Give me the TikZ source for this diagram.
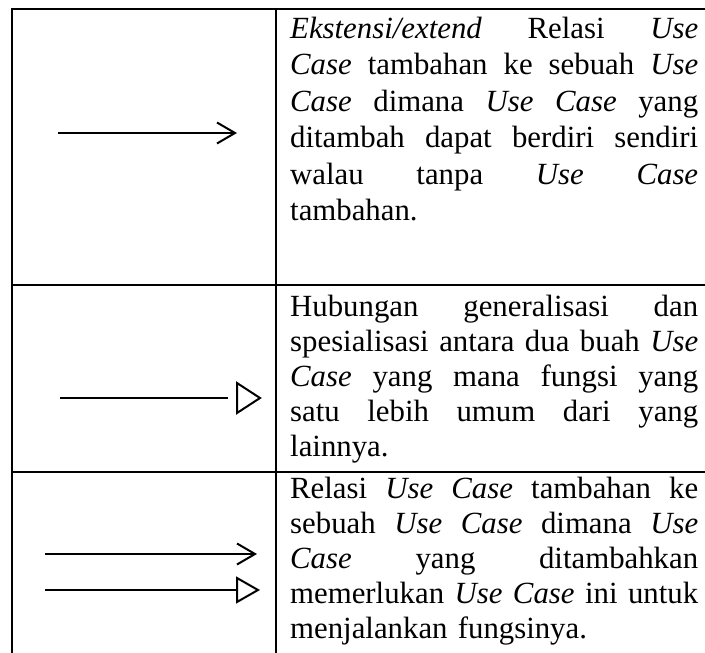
\documentclass[tikz,border=0pt]{standalone}
\usepackage{fontspec}
\setmainfont{Liberation Serif}
% one fully justified line of a cell
\newlength\celltextwidth
\setlength\celltextwidth{408pt}
\newcommand\jl[1]{\leavevmode\hbox to\celltextwidth{\spaceskip=0.25em plus 1fil\relax #1}}
\begin{document}
\begin{tikzpicture}[x=1pt,y=-1pt,
  rule/.style={line width=2.5pt},
  conn/.style={line width=2pt, line join=miter},
  desc/.style={anchor=base west, inner sep=0pt, text width=\celltextwidth, align=left,
               font=\fontsize{30.8}{35}\selectfont}]
\useasboundingbox (0,0) rectangle (705,653);

% table rules
\coordinate (tl) at (12,9);
\coordinate (tr) at (705,9);
\coordinate (bl) at (12,653);
\coordinate (ct) at (276,9);
\coordinate (cb) at (276,653);
\coordinate (r1l) at (12,285);
\coordinate (r1r) at (705,285);
\coordinate (r2l) at (12,472);
\coordinate (r2r) at (705,472);
\draw[rule] (bl) -- (tl) -- (tr);
\draw[rule] (ct) -- (cb);
\draw[rule] (r1l) -- (r1r);
\draw[rule] (r2l) -- (r2r);

% row 1: extend
\coordinate (e1s) at (58,133);
\coordinate (e1e) at (235,133);
\draw[conn] (e1s) -- (e1e);
\draw[conn] (e1e) ++(-18,-10.5) -- (e1e) -- ++(-18,10.5);
\node[desc, font=\fontsize{30.8}{36.5}\selectfont] (d1) at (290,38) {%
\jl{\textit{Ekstensi/extend} Relasi \textit{Use}}\\
\jl{\textit{Case} tambahan ke sebuah \textit{Use}}\\
\jl{\textit{Case} dimana \textit{Use Case} yang}\\
\jl{ditambah dapat berdiri sendiri}\\
\jl{walau tanpa \textit{Use Case}}\\
tambahan.};

% row 2: generalisation
\coordinate (g1s) at (60,398);
\coordinate (g1e) at (228,398);
\coordinate (g1t) at (260,398);
\draw[conn] (g1s) -- (g1e);
\draw[conn] (g1t) -- ++(-23,-15) -- ++(0,30) -- cycle;
\node[desc] (d2) at (290,316) {%
\jl{Hubungan generalisasi dan}\\
\jl{spesialisasi antara dua buah \textit{Use}}\\
\jl{\textit{Case} yang mana fungsi yang}\\
\jl{satu lebih umum dari yang}\\
lainnya.};

% row 3: include
\coordinate (i1s) at (45,554);
\coordinate (i1e) at (255,554);
\draw[conn] (i1s) -- (i1e);
\draw[conn] (i1e) ++(-18,-10.5) -- (i1e) -- ++(-18,10.5);
\coordinate (i2s) at (45,590);
\coordinate (i2e) at (237,590);
\coordinate (i2t) at (258,590);
\draw[conn] (i2s) -- (i2e);
\draw[conn] (i2t) -- ++(-21,-12) -- ++(0,24) -- cycle;
\node[desc] (d3) at (290,498) {%
\jl{Relasi \textit{Use Case} tambahan ke}\\
\jl{sebuah \textit{Use Case} dimana \textit{Use}}\\
\jl{\textit{Case} yang ditambahkan}\\
\jl{memerlukan \textit{Use Case} ini untuk}\\
menjalankan fungsinya.};
\end{tikzpicture}
\end{document}
